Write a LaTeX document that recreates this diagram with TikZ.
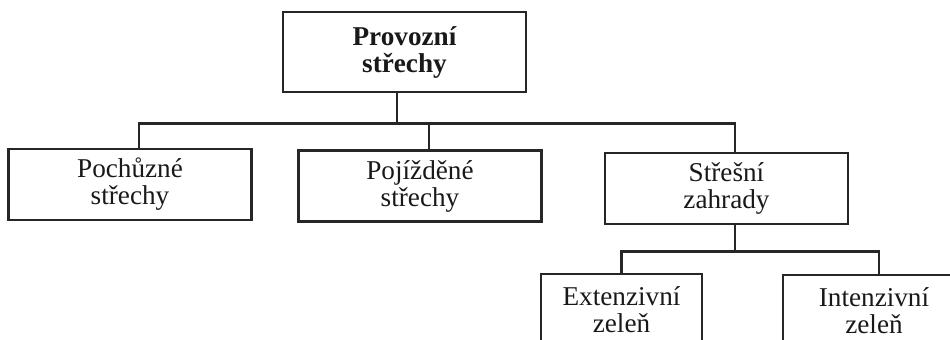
\documentclass[tikz,border=0pt]{standalone}
\usepackage{fontspec}
\setmainfont{Liberation Serif}
\usetikzlibrary{positioning}

\begin{document}
\begin{tikzpicture}[x=0.5pt, y=-0.5pt,
    line width=1.3pt, draw=black!85,
    box/.style={draw, rectangle, align=center, inner sep=0pt,
        font=\fontsize{13.6pt}{13.5pt}\selectfont, text=black!90},
    wide/.style={box, minimum width=121.5pt, minimum height=35.5pt},
    narrow/.style={box, minimum width=80.5pt, minimum height=35.5pt}]
    \useasboundingbox (0,0) rectangle (950,340);
    \clip (0,0) rectangle (950,340);

    % Nodes
    \node[wide, minimum height=40pt, font=\fontsize{13.6pt}{13.5pt}\selectfont\bfseries]
        (provozni) at (404.5,52) {Provozní\\střechy};
    \node[wide] (pochuzne) at (130,184.5) {Pochůzné\\střechy};
    \node[wide] (pojizdene) at (420,186) {Pojížděné\\střechy};
    \node[wide] (zahrady) at (726.5,188.5) {Střešní\\zahrady};
    \node[narrow] (extenzivni) at (621.5,309.5) {Extenzivní\\zeleň};
    \node[narrow, minimum width=91pt] (intenzivni) at (874,310.5) {Intenzivní\\zeleň};

    % Edges
    \coordinate (hub) at ([xshift=-3.75pt, yshift=-15pt]provozni.south);
    \coordinate (pojizdenein) at ([xshift=4.5pt]pojizdene.north);
    \draw ([xshift=-3.75pt]provozni.south) -- (hub);
    \draw ([xshift=4.5pt]pochuzne.north) |- (hub) -| ([xshift=4.25pt]zahrady.north);
    \draw (pojizdenein) -- (pojizdenein |- hub);

    \coordinate (hub2) at ([xshift=4.25pt, yshift=-13pt]zahrady.south);
    \draw ([xshift=4.25pt]zahrady.south) -- (hub2);
    \draw (extenzivni.north) |- (hub2) -| ([xshift=2.5pt]intenzivni.north);
\end{tikzpicture}
\end{document}
